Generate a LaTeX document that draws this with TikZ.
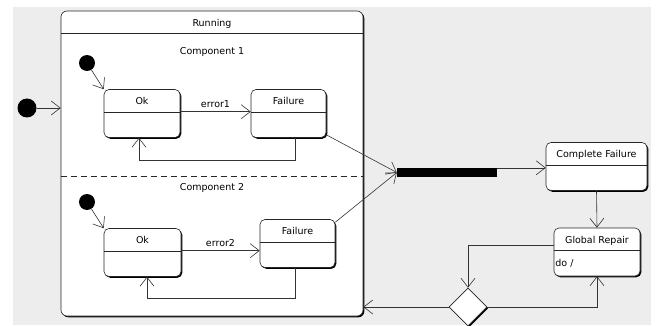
\documentclass[tikz,border=0pt]{standalone}
\usepackage{fontspec}
\setmainfont{DejaVu Sans}
\usetikzlibrary{arrows.meta,shapes.geometric,shadows}

\tikzset{
  every node/.style={font=\fontsize{9.5}{11}\selectfont},
  box/.style={draw=black!85, fill=white, line width=0.6pt, inner sep=0pt,
    drop shadow={opacity=1, fill=black, shadow xshift=1.3pt, shadow yshift=-1.3pt}},
  state/.style={box, rounded corners=5pt, minimum width=#1, minimum height=48pt,
    path picture={\draw[black!85, line width=0.6pt]
      ([yshift=-22.5pt]path picture bounding box.north west) --
      ([yshift=-22.5pt]path picture bounding box.north east);}},
  title/.style={anchor=base, inner sep=0pt, yshift=-15.5pt},
  initial/.style={circle, fill=black, inner sep=0pt},
  decision/.style={box, diamond, minimum width=38pt, minimum height=38pt},
  arr/.style={draw=black!80, line width=0.6pt,
    -{Straight Barb[length=9pt, width=14pt, line width=0.6pt]}}
}

\begin{document}
\begin{tikzpicture}[x=1pt, y=-1pt]
  \useasboundingbox (0,0) rectangle (658,326);
  \fill[black!7] (13,7) rectangle (651,325);

  % Running (composite state)
  \node[box, rounded corners=6pt, minimum width=302pt, minimum height=305pt,
        label={[title]north:Running}] (run) at (212,163.5) {};
  \draw[black!85, line width=0.6pt] ([yshift=-23pt]run.north west) -- ([yshift=-23pt]run.north east);
  \draw[black!85, line width=0.6pt, dash pattern=on 6pt off 4pt] (run.west |- 0,176) -- (run.east |- 0,176);
  \node (comp1) at (212,52) {Component 1};
  \node (comp2) at (212,188) {Component 2};

  % initial states
  \node[initial, minimum size=19pt] (init) at (27,108) {};
  \node[initial, minimum size=16pt] (init1) at (87,63) {};
  \node[initial, minimum size=16pt] (init2) at (87,202) {};

  % Component 1
  \node[state=76pt, label={[title]north:Ok}] (ok1) at (142,113.5) {};
  \node[state=75pt, label={[title]north:Failure}] (fail1) at (288.5,113.5) {};

  % Component 2
  \node[state=77pt, label={[title]north:Ok}] (ok2) at (142.5,252.5) {};
  \node[state=75pt, label={[title]north:Failure}] (fail2) at (297.5,243.5) {};

  % join bar, outer states and choice
  \node[fill=black, minimum width=100pt, minimum height=9pt, inner sep=0pt] (bar) at (447,172.5) {};
  \node[state=101pt, label={[title]north:Complete Failure}] (cf) at (596.5,166.5) {};
  \node[state=86pt, label={[title]north:Global Repair}] (gr) at (597,252) {};
  \node[anchor=base west, inner sep=1.5pt] (grdo) at ([yshift=-38.5pt]gr.north west) {do /};
  \node[decision] (choice) at (468,307) {};

  % transitions
  \draw[arr] (init) -- (init -| run.west);
  \draw[arr] (init1) -- (ok1.north west);
  \draw[arr] (init2) -- (ok2.north west);
  \draw[arr] ([yshift=-22.5pt]ok1.north east) coordinate (e1) -- (e1 -| fail1.west)
    node[midway, above] {error1};
  \draw[arr] ([yshift=-22.5pt]ok2.north east) coordinate (e2) -- (e2 -| fail2.west)
    node[midway, above] {error2};
  \draw[arr] ([xshift=6.5pt]fail1.south) -- ++(0,22) -| ([xshift=-3pt]ok1.south);
  \draw[arr] ([xshift=-2.5pt]fail2.south) -- ++(0,30.5) -| ([xshift=4.5pt]ok2.south);
  \draw[arr] ([yshift=3pt]fail1.south east) -- (bar.west);
  \draw[arr] ([yshift=-3pt]fail2.north east) -- (bar.west);
  \draw[arr] (bar.north east) -- (bar.north east -| cf.west);
  \draw[arr] (cf.south) -- (gr.north);
  \draw[arr] ([yshift=-18pt]gr.north west) -| (choice.north);
  \draw[arr] (choice.east) -| (gr.south);
  \draw[arr] (choice.west) -- (choice.west -| run.east);
\end{tikzpicture}
\end{document}
